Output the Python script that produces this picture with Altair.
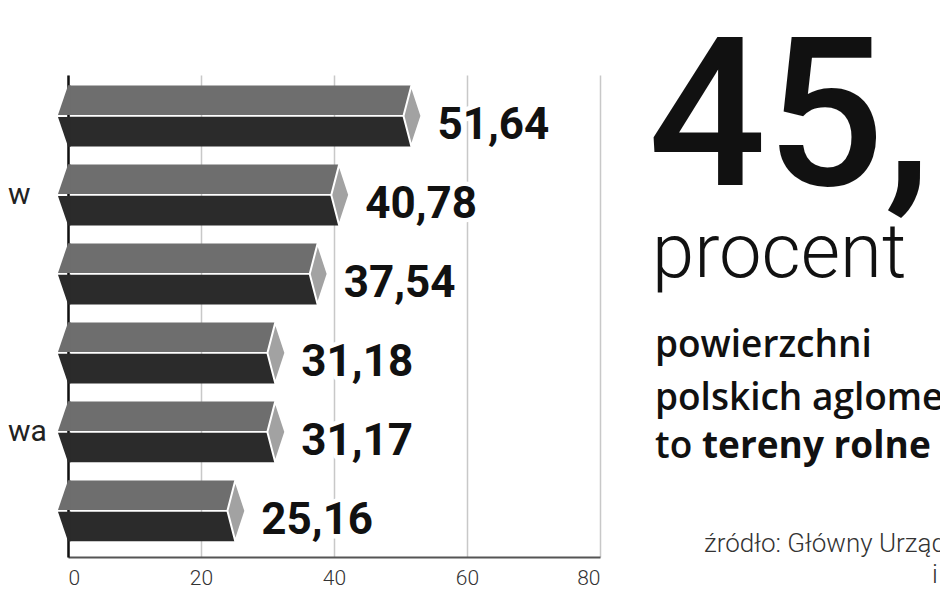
import altair as alt
import pandas as pd

# ---- data ----
values = [51.64, 40.78, 37.54, 31.18, 31.17, 25.16]
value_text = ["51,64", "40,78", "37,54", "31,18", "31,17", "25,16"]
row_labels = ["", "w", "", "", "wa", ""]   # only these fragments are visible in the cropped picture
rows = [1, 2, 3, 4, 5, 6]
parts = ["top", "bottom"]
part_colors = ["#6e6e6e", "#2b2b2b"]
x_ticks = [0, 20, 40, 60, 80]

big_number = "45,"
unit_text = "procent"
desc_lines = ["powierzchni", "polskich aglomeracji"]
desc_last_plain = "to"
desc_last_bold = "tereny rolne"
source_lines = ["źródło: Główny Urząd Geodezji", "i Kartografii"]

df = pd.DataFrame({"row": rows, "value": values, "text": value_text, "label": row_labels})
long = pd.DataFrame([{"row": r, "value": v, "part": p}
                     for r, v in zip(rows, values) for p in parts])

FONT = "Roboto"
xscale = alt.Scale(domain=[0, 80], nice=False, zero=True)
yscale = alt.Scale(paddingInner=0.228, paddingOuter=0.165, align=0.4)
off_scale = alt.Scale(domain=parts, paddingInner=0.06, paddingOuter=0)
col_scale = alt.Scale(domain=parts, range=part_colors)

x_enc = alt.X("value:Q", scale=xscale,
              axis=alt.Axis(values=x_ticks, title=None, ticks=False, labelPadding=10,
                            labelFont=FONT, labelFontSize=21, labelFontWeight=300,
                            labelColor="#333333", grid=True, gridColor="#c8c8c8",
                            gridWidth=1.5, domainColor="#555555", domainWidth=2))
y_enc = alt.Y("row:O", scale=yscale,
              axis=alt.Axis(title=None, labels=False, ticks=False, grid=False,
                            domainColor="#111111", domainWidth=2.5))

base = alt.Chart(long)

bars = base.mark_bar(cornerRadius=0).encode(
    x=x_enc, y=y_enc,
    yOffset=alt.YOffset("part:N", scale=off_scale),
    color=alt.Color("part:N", scale=col_scale, legend=None),
)

chev_top = "M0.2,-1 L0,-1 L-0.68,1 L0.2,1 Z"
chev_bot = "M0.2,-1 L-0.68,-1 L0,1 L0.2,1 Z"
chevrons = base.mark_point(filled=True, opacity=1, size=870, strokeWidth=0).encode(
    x=alt.datum(0, scale=xscale),
    y=alt.Y("row:O", scale=yscale),
    yOffset=alt.YOffset("part:N", scale=off_scale),
    color=alt.Color("part:N", scale=col_scale, legend=None),
    shape=alt.Shape("part:N", scale=alt.Scale(domain=parts, range=[chev_top, chev_bot]), legend=None),
)

top = alt.Chart(df)
diamond_path = "M0,-1 L0.33,0 L0,1 L-0.26,0 Z"
diamonds = top.mark_point(filled=True, opacity=1, size=3721, shape=diamond_path,
                          fill="#a2a2a2", stroke="white", strokeWidth=2).encode(
    x=alt.X("value:Q", scale=xscale), y=alt.Y("row:O", scale=yscale))

label_kw = dict(align="left", baseline="alphabetic", dx=26, dy=23, font=FONT,
                fontSize=44, fontWeight="bold")
halo = top.mark_text(color="white", stroke="white", strokeWidth=9, strokeJoin="round",
                     **label_kw).encode(x=alt.X("value:Q", scale=xscale),
                                        y=alt.Y("row:O", scale=yscale), text="text:N")
vlabels = top.mark_text(color="#111111", **label_kw).encode(
    x=alt.X("value:Q", scale=xscale), y=alt.Y("row:O", scale=yscale), text="text:N")

row_text = top.mark_text(align="left", baseline="middle", font=FONT, fontSize=30,
                         color="#222222").encode(
    x=alt.value(-60), y=alt.Y("row:O", scale=yscale), text="label:N")


def note(txt, x, y, size, weight, font=FONT, color="#111111"):
    return alt.Chart(pd.DataFrame({"t": [txt]})).mark_text(
        align="left", baseline="alphabetic", font=font, fontSize=size,
        fontWeight=weight, color=color).encode(x=alt.value(x), y=alt.value(y), text="t:N")


notes = [
    note(big_number, 580, 110, 208, 500),
    note(unit_text, 584, 202, 76, 300),
    note(desc_lines[0], 587, 282, 37, 600, "Open Sans"),
    note(desc_lines[1], 587, 335, 37, 600, "Open Sans"),
    note(desc_last_plain, 587, 383, 37, 600, "Open Sans"),
    note(desc_last_bold, 634, 383, 37, 700, "Open Sans"),
    note(source_lines[0], 636, 477, 26, 300, FONT, "#333333"),
    note(source_lines[1], 864, 508, 26, 300, FONT, "#333333"),
]

chart = alt.layer(bars, chevrons, diamonds, halo, vlabels, row_text, *notes).properties(
    width=532, height=482,
    padding={"left": 60, "top": 67, "right": 340, "bottom": 34},
    autosize=alt.AutoSizeParams(type="none"),
    background="white",
).configure_view(stroke=None)

chart.save("out.html", embed_options={"renderer": "svg", "actions": False})
